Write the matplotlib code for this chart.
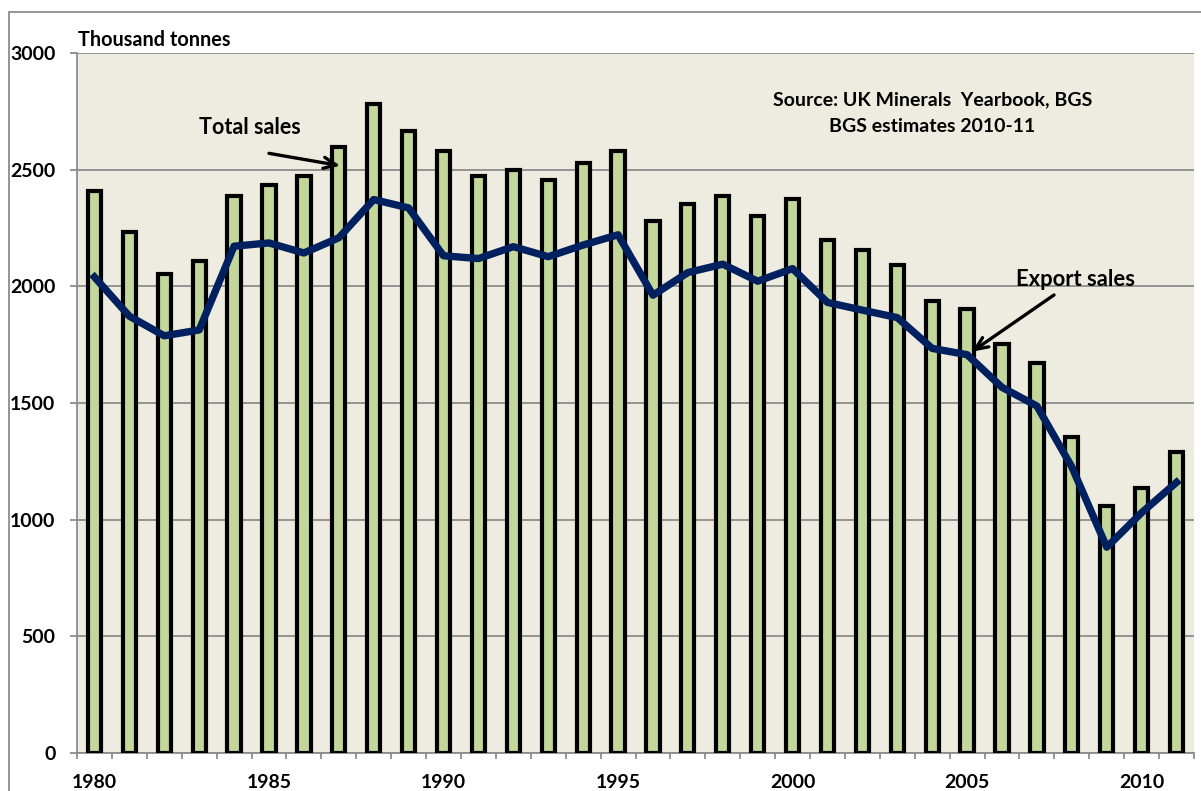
import numpy as np
import matplotlib
matplotlib.use("Agg")
from matplotlib import pyplot as plt
from matplotlib.patches import Rectangle

# data (thousand tonnes)
years = list(range(1980, 2012))
total_sales = [2410, 2233, 2055, 2110, 2386, 2436, 2475, 2597, 2782, 2665,
               2578, 2472, 2499, 2456, 2528, 2582, 2279, 2355, 2387, 2300,
               2373, 2197, 2156, 2093, 1939, 1905, 1755, 1670, 1354, 1057,
               1137, 1289]
export_sales = [2040, 1872, 1788, 1813, 2172, 2186, 2143, 2208, 2372, 2336,
                2131, 2119, 2170, 2127, 2177, 2221, 1962, 2059, 2095, 2022,
                2076, 1931, 1898, 1866, 1734, 1707, 1567, 1487, 1226, 882,
                1030, 1160]
year_labels = ["1980", "1985", "1990", "1995", "2000", "2005", "2010"]
y_ticks = [0, 500, 1000, 1500, 2000, 2500, 3000]
source_lines = ["Source: UK Minerals  Yearbook, BGS", "BGS estimates 2010-11"]

FONT = ["Lato", "DejaVu Sans"]
plt.rcParams["font.family"] = FONT
plt.rcParams["font.weight"] = "bold"

fig = plt.figure(figsize=(12.01, 7.91), dpi=100)
ax = fig.add_axes([77 / 1201, 38 / 791, (1194 - 77) / 1201, 700 / 791])
ax.set_facecolor("#EEEBE0")

x = np.arange(len(years))
ax.bar(x, total_sales, width=0.38, color="#C4D79B", edgecolor="black",
       linewidth=3, zorder=3)
ax.plot(x, export_sales, color="#002060", linewidth=5.3, zorder=4)

ax.set_xlim(-0.5, len(years) - 0.5)
ax.set_ylim(0, 3000)
ax.set_yticks(y_ticks)
ax.set_yticklabels([str(v) for v in y_ticks], fontsize=14, fontweight="bold")
ax.yaxis.grid(True, color="#8C8C8C", linewidth=1.3, zorder=0)
ax.tick_params(axis="y", length=5, width=1.3, color="#8C8C8C", pad=10.5)

major = [years.index(int(s)) for s in year_labels]
ax.set_xticks(major)
ax.set_xticklabels(year_labels, fontsize=14, fontweight="bold")
ax.set_xticks(np.arange(-0.5, len(years)), minor=True)
ax.tick_params(axis="x", which="major", length=0, pad=15)
ax.tick_params(axis="x", which="minor", length=4.5, width=1.3,
               color="#8C8C8C")

for side in ["top", "right"]:
    ax.spines[side].set_visible(False)
for side in ["left", "bottom"]:
    ax.spines[side].set_color("#8C8C8C")
    ax.spines[side].set_linewidth(1.3)

fig.text(78 / 1201, 1 - 40 / 791, "Thousand tonnes", fontsize=14.3,
         fontweight="bold", va="center", ha="left")

# source note
for i, line in enumerate(source_lines):
    ax.text(24.0, 2799 - i * 116, line, fontsize=14, fontweight="bold",
            ha="center", va="center", zorder=5)

# labels with arrows
arrow = dict(arrowstyle="->,head_length=0.9,head_width=0.4", color="black",
             lw=2.4, shrinkA=0, shrinkB=0)
ax.text(4.46, 2679, "Total sales", fontsize=15.5, fontweight="bold",
        ha="center", va="center", zorder=5)
ax.annotate("", xy=(7.04, 2517), xytext=(5.0, 2570), arrowprops=arrow,
            zorder=5)
ax.text(28.1, 2031, "Export sales", fontsize=15.8, fontweight="bold",
        ha="center", va="center", zorder=5)
ax.annotate("", xy=(25.14, 1720), xytext=(27.49, 1963), arrowprops=arrow,
            zorder=5)

# outer border of the chart area
fig.patches.append(Rectangle((9 / 1201, -0.1), 1.2, 1.1 - 12 / 791,
                             transform=fig.transFigure, fill=False,
                             edgecolor="#8C8C8C", linewidth=1.3))

fig.savefig("out.png", dpi=100)
